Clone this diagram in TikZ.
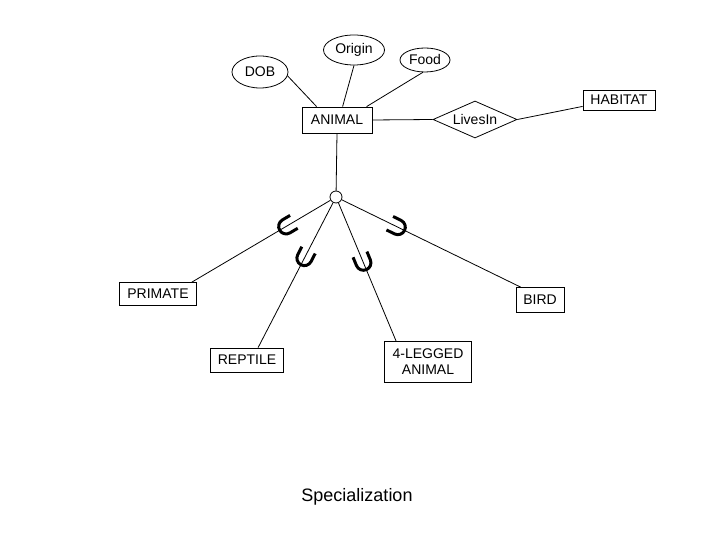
\documentclass[tikz,border=0pt]{standalone}
\usepackage{fontspec}
\setmainfont{Liberation Sans}
\usetikzlibrary{shapes.geometric,calc}
\begin{document}
\begin{tikzpicture}[x=1pt,y=1pt,
  every node/.style={font=\fontsize{14}{16}\selectfont, inner sep=0pt},
  attr/.style={draw, ellipse, line width=0.8pt},
  ent/.style={draw, rectangle, line width=0.8pt, align=center},
  rel/.style={draw, diamond, aspect=2.5, line width=0.8pt},
  conn/.style={line width=0.8pt},
  subsetU/.pic={\draw[line width=3pt] (8,7.5) -- (-1,7.5) arc[start angle=90, end angle=270, radius=7.5] -- (8,-7.5);}
]
\useasboundingbox (0,0) rectangle (720,540);
% attributes
\node[attr, minimum width=56, minimum height=32] (dob) at (260,468) {DOB};
\node[attr, minimum width=61, minimum height=30] (origin) at (354,490) {Origin};
\node[attr, minimum width=50, minimum height=24] (food) at (425,480) {Food};
% entities
\node[ent, minimum width=70, minimum height=26] (animal) at (337,420) {ANIMAL};
\node[rel, minimum width=84, minimum height=37] (lives) at (475,420.5) {LivesIn};
\node[ent, minimum width=72, minimum height=20] (habitat) at (619,440) {HABITAT};
\node[draw, circle, minimum size=12, line width=0.8pt] (circ) at (336,343) {};
\node[ent, minimum width=77, minimum height=23] (primate) at (158,246) {PRIMATE};
\node[ent, minimum width=73, minimum height=24] (reptile) at (247,180) {REPTILE};
\node[ent, minimum width=87, minimum height=41] (legged) at (428,178) {4-LEGGED\\ANIMAL};
\node[ent, minimum width=48, minimum height=25] (bird) at (540,240) {BIRD};
\node[font=\fontsize{18}{20}\selectfont, anchor=base] (title) at (357,38) {Specialization};
% attachment points
\coordinate (a1) at ($(animal.north west)+(15,0)$);
\coordinate (a2) at ($(animal.north west)+(41,0)$);
\coordinate (a3) at ($(animal.north west)+(65,0)$);
\coordinate (pe) at ($(primate.north east)+(-5,0)$);
\coordinate (re) at ($(reptile.north west)+(48,0)$);
\coordinate (le) at ($(legged.north west)+(12,0)$);
\coordinate (be) at ($(bird.north west)+(5,0)$);
% connectors
\draw[conn] (dob.-8) -- (a1);
\draw[conn] (origin.south) -- (a2);
\draw[conn] (food.-100) -- (a3);
\draw[conn] (animal.east) -- (lives.west);
\draw[conn] (lives.east) -- (habitat.190);
\draw[conn] (animal.south) -- (circ);
\draw[conn] (circ) -- (pe);
\draw[conn] (circ) -- (re);
\draw[conn] (circ) -- (le);
\draw[conn] (circ) -- (be);
% subset symbols
\pic[rotate=30.8] at ($(circ)!0.34!(pe)$) {subsetU};
\pic[rotate=62.7] at ($(circ)!0.40!(re)$) {subsetU};
\pic[rotate=112.5] at ($(circ)!0.45!(le)$) {subsetU};
\pic[rotate=153.8] at ($(circ)!0.33!(be)$) {subsetU};
\end{tikzpicture}
\end{document}
